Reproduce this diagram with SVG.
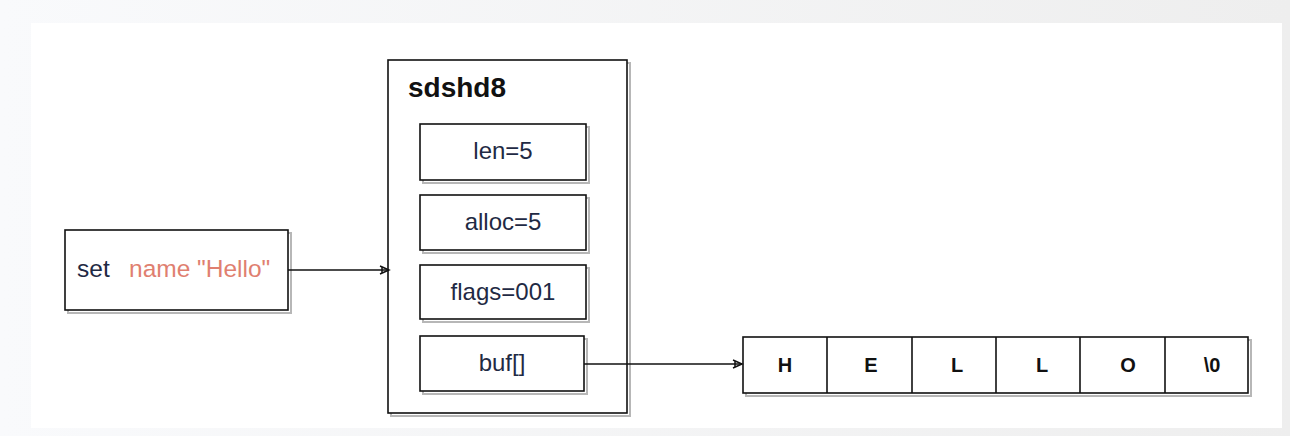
<svg xmlns="http://www.w3.org/2000/svg" width="1290" height="436" viewBox="0 0 1290 436">
<defs>
<linearGradient id="bg" x1="0" y1="0" x2="1" y2="0">
<stop offset="0" stop-color="#f9fafc"/>
<stop offset="1" stop-color="#eeeeee"/>
</linearGradient>
<marker id="arr" markerWidth="12" markerHeight="10" refX="10" refY="5" orient="auto" markerUnits="userSpaceOnUse">
<path d="M1,1 L10,5 L1,9 M3,2.5 L3,7.5" fill="none" stroke="#111" stroke-width="1.5"/>
</marker>
<style>
.shadow{fill:none;stroke:#999;stroke-width:2;opacity:0.7}
.box{fill:#fff;stroke:#111;stroke-width:1.6}
.lbl{font-family:"Liberation Sans",Arial,sans-serif;font-size:24px;fill:#1f2a44;text-anchor:middle}
.cell{font-family:"Liberation Sans",Arial,sans-serif;font-size:20px;font-weight:bold;fill:#111;text-anchor:middle}
.conn{fill:none;stroke:#111;stroke-width:1.6}
</style>
</defs>
<rect x="0" y="0" width="1290" height="436" fill="url(#bg)"/>
<rect x="31" y="23" width="1251" height="405" fill="#fff"/>

<g id="set-node">
<rect class="shadow" x="68" y="233" width="223" height="80"/>
<rect class="box" x="65" y="230" width="223" height="80"/>
<text x="77" y="277" font-family="Liberation Sans,Arial,sans-serif" font-size="24.5" fill="#1f2a44">set <tspan x="129" fill="#e07f70">name "Hello"</tspan></text>
</g>

<g id="sdshd8">
<rect class="shadow" x="391" y="63" width="239" height="353"/>
<rect class="box" x="388" y="60" width="239" height="353"/>
<text x="408" y="97" font-family="Liberation Sans,Arial,sans-serif" font-size="28" font-weight="bold" fill="#111">sdshd8</text>
</g>

<g id="len">
<rect class="shadow" x="423" y="127" width="166" height="56"/>
<rect class="box" x="420" y="124" width="166" height="56"/>
<text class="lbl" x="503" y="159">len=5</text>
</g>
<g id="alloc">
<rect class="shadow" x="423" y="198" width="166" height="55"/>
<rect class="box" x="420" y="195" width="166" height="55"/>
<text class="lbl" x="503" y="230">alloc=5</text>
</g>
<g id="flags">
<rect class="shadow" x="423" y="268" width="166" height="54"/>
<rect class="box" x="420" y="265" width="166" height="54"/>
<text class="lbl" x="503" y="300">flags=001</text>
</g>
<g id="buf">
<rect class="shadow" x="423" y="339" width="164" height="55"/>
<rect class="box" x="420" y="336" width="164" height="55"/>
<text class="lbl" x="502" y="371">buf[]</text>
</g>

<g id="array">
<rect class="shadow" x="746" y="340" width="505" height="56"/>
<rect class="box" x="743" y="337" width="505" height="56"/>
<g stroke="#111" stroke-width="1.6">
<line x1="827" y1="337" x2="827" y2="393"/>
<line x1="912" y1="337" x2="912" y2="393"/>
<line x1="996" y1="337" x2="996" y2="393"/>
<line x1="1080" y1="337" x2="1080" y2="393"/>
<line x1="1165" y1="337" x2="1165" y2="393"/>
</g>
<text class="cell" x="785" y="372">H</text>
<text class="cell" x="871" y="372">E</text>
<text class="cell" x="957" y="372">L</text>
<text class="cell" x="1042" y="372">L</text>
<text class="cell" x="1128" y="372">O</text>
<text class="cell" x="1212" y="372">\0</text>
</g>

<g id="connectors">
<line class="conn" x1="288" y1="270" x2="389" y2="270" marker-end="url(#arr)"/>
<line class="conn" x1="584" y1="364" x2="742" y2="364" marker-end="url(#arr)"/>
</g>
</svg>
